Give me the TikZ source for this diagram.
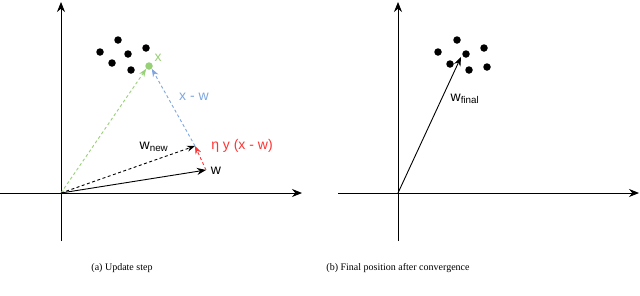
\documentclass[tikz,border=0pt]{standalone}
\usepackage{fontspec}
\setmainfont{Liberation Sans}
\newfontfamily\capfont{Liberation Serif}
\usetikzlibrary{arrows.meta}
\definecolor{lgreen}{HTML}{97D077}
\definecolor{lblue}{HTML}{7EA6E0}
\definecolor{lred}{HTML}{FF3333}
\begin{document}
\begin{tikzpicture}[x=1pt,y=-1pt,
  axis/.style={line width=0.9pt,-{Stealth[length=10pt,width=8pt]}},
  vec/.style={line width=0.9pt,-{Stealth[length=9pt,width=7pt]}},
  dvec/.style={line width=0.9pt,dash pattern=on 3pt off 2.5pt,-{Stealth[length=8pt,width=6pt]}},
  pt/.style={circle,fill=black,inner sep=0pt,minimum size=7.5pt},
  lbl/.style={font=\fontsize{14}{16}\selectfont,inner sep=0pt},
  captext/.style={font=\capfont\fontsize{10}{12}\selectfont,inner sep=0pt}]
\useasboundingbox (0,0) rectangle (640,295);
% ---------- panel (a)
\coordinate (oa) at (61,193);
\coordinate (ya) at (61,2);
\coordinate (yb) at (61,241);
\coordinate (xa) at (0,193);
\coordinate (xb) at (302,193);
\draw[axis] (yb) -- (ya);
\draw[axis] (xa) -- (xb);
\node[pt] (d1) at (100,52) {};
\node[pt] (d2) at (118,40) {};
\node[pt] (d3) at (128,54) {};
\node[pt] (d4) at (146,48) {};
\node[pt] (d5) at (112,63) {};
\node[pt] (d6) at (131,70) {};
\node[circle,fill=lgreen,inner sep=0pt,minimum size=7.5pt] (x) at (149,66) {};
\node[lbl,text=lgreen] (xl) at (158,58) {x};
\coordinate (w) at (206,170);
\coordinate (wn) at (195,146);
\draw[vec] (oa) -- (w);
\node[lbl] (wl) at (216,171) {w};
\draw[dvec,lgreen] (oa) -- (x.south west);
\draw[dvec,lblue] (wn) -- (x.south east);
\node[lbl,text=lblue] (xwl) at (194,97) {x - w};
\draw[dvec,lred] (w) -- (wn);
\node[lbl,text=lred] (eta) at (242,146) {η y (x - w)};
\draw[dvec,black] (oa) -- (wn);
\node[lbl] (wnl) at (154,147) {w\textsubscript{new}};
\node[captext] (ca) at (122,268) {(a) Update step};
% ---------- panel (b)
\coordinate (ob) at (398,193);
\coordinate (yc) at (398,2);
\coordinate (yd) at (398,241);
\coordinate (xc) at (338,193);
\coordinate (xd) at (639,193);
\draw[axis] (yd) -- (yc);
\draw[axis] (xc) -- (xd);
\node[pt] (e1) at (438,52) {};
\node[pt] (e2) at (457,40) {};
\node[pt] (e3) at (466,54) {};
\node[pt] (e4) at (484,48) {};
\node[pt] (e5) at (450,64) {};
\node[pt] (e6) at (469,70) {};
\node[pt] (e7) at (487,67) {};
\coordinate (wf) at (461,57);
\draw[vec] (ob) -- (wf);
\node[lbl] (wfl) at (465,99) {w\textsubscript{final}};
\node[captext] (cb) at (398,268) {(b) Final position after convergence};
\end{tikzpicture}
\end{document}
